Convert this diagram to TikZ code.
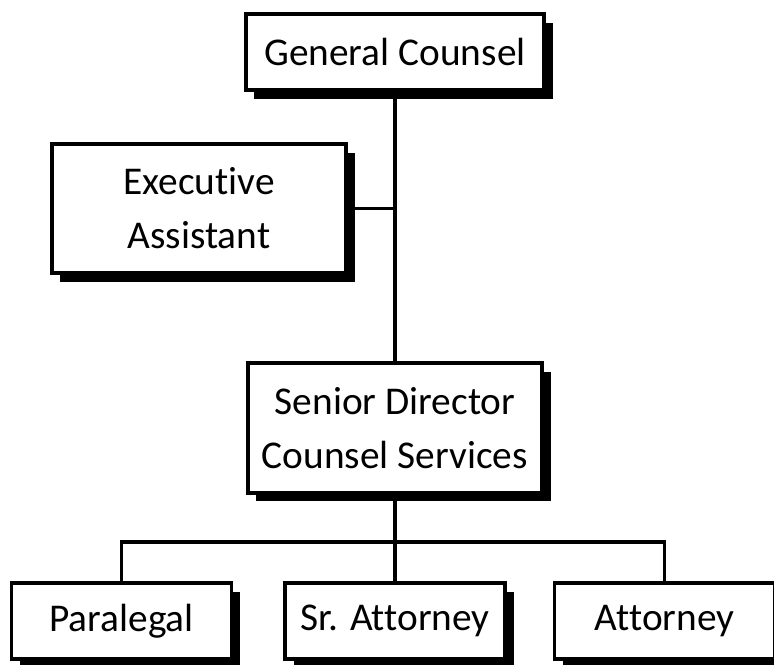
\documentclass[tikz,border=0pt]{standalone}
\usepackage{fontspec}
\setmainfont{Carlito}[Ligatures=NoCommon]
\usetikzlibrary{shadows}

\begin{document}
\begin{tikzpicture}[x=0.75pt,y=-0.75pt]
    \pgfmathsetmacro{\spine}{395}
    \pgfmathsetmacro{\barlevel}{542}
    \pgfmathsetmacro{\shadowshift}{6.5}
    \providecommand{\boxfontsize}{\fontsize{29.5}{40.5}\selectfont}
    \tikzset{
        post/.style={draw,line width=2.8pt,fill=white,align=center,inner sep=0pt,
            font=\boxfontsize,
            drop shadow={shadow xshift=\shadowshift pt,shadow yshift=-\shadowshift pt,fill=black,opacity=1}},
        widepost/.style={post,minimum width=221pt,minimum height=97pt},
        smallpost/.style={post,minimum width=165pt,minimum height=57pt},
        link/.style={line width=2.6pt}
    }
    \useasboundingbox (0,0) rectangle (774,664);
    % top of the chart
    \node[post,minimum width=224pt,minimum height=57pt] (gc) at (\spine,52) {General Counsel};
    \node[widepost] (ea) at (199,208.5) {Executive\\Assistant};
    \node[widepost] (sd) at (\spine,428) {Senior Director\\Counsel Services};
    % staff row
    \node[smallpost] (pl) at (121.5,621) {Paralegal};
    \node[smallpost] (sa) at (\spine,621) {Sr. Attorney};
    \node[smallpost] (at) at (664.5,621) {Attorney};
    \coordinate (tap) at (gc.south |- ea.east);
    \coordinate (bar) at (sd.south |- 0,\barlevel);
    \draw[link] (gc.south) -- (sd.north);
    \draw[link] (ea.east) -- (tap);
    \draw[link] (sd.south) -- (bar);
    \draw[link] (pl.north) |- (bar) -| (at.north);
    \draw[link] (bar) -- (sa.north);
\end{tikzpicture}
\end{document}
